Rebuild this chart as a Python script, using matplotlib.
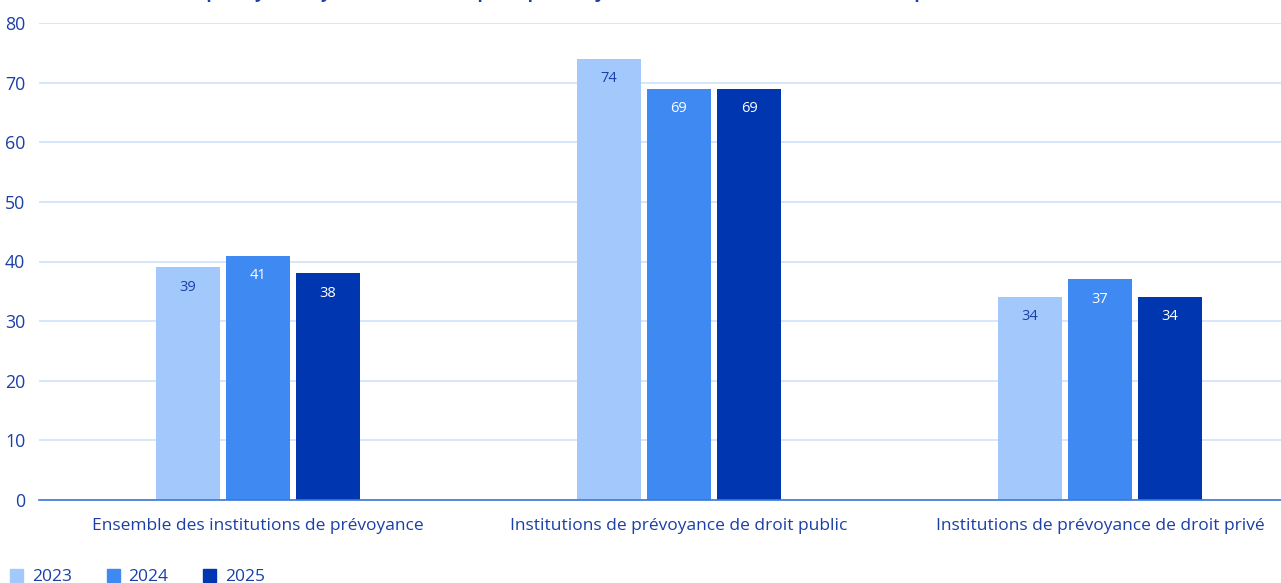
import matplotlib
matplotlib.use("Agg")
import matplotlib.pyplot as plt
import numpy as np

categories = ["Ensemble des institutions de prévoyance",
              "Institutions de prévoyance de droit public",
              "Institutions de prévoyance de droit privé"]
years = ["2023", "2024", "2025"]
values_2023 = [39, 74, 34]
values_2024 = [41, 69, 37]
values_2025 = [38, 69, 34]
yticks = [0, 10, 20, 30, 40, 50, 60, 70, 80]
title = "Part des institutions de prévoyance ayant atteint leurs principaux objectifs en matière de rendement des placements"

colors = ["#a3c9fc", "#3f89f3", "#0037b1"]
label_colors = ["#1a3fa6", "white", "white"]
txt = "#1a3fa6"

plt.rcParams['font.family'] = ['Open Sans', 'DejaVu Sans']

W, H = 1281, 583
fig = plt.figure(figsize=(W / 100, H / 100), dpi=100)
ax = fig.add_axes([39 / W, 1 - 500 / H, (1281 - 39) / W, (500 - 23) / H])

x = np.arange(len(categories))
series = [values_2023, values_2024, values_2025]
bw = 0.152
off = 0.1665
for i, (vals, col, lc, yr) in enumerate(zip(series, colors, label_colors, years)):
    pos = x + (i - 1) * off
    bars = ax.bar(pos, vals, width=bw, color=col, label=yr, zorder=3)
    for b, v in zip(bars, vals):
        ax.text(b.get_x() + b.get_width() / 2, v - 3.3, str(v), ha='center', va='center',
                color=lc, fontsize=10.5, zorder=4)

ax.set_xlim(-0.52, 2.43)
ax.set_ylim(0, 80)
ax.set_yticks(yticks)
ax.set_yticklabels([str(t) for t in yticks])
ax.set_xticks(x)
ax.set_xticklabels(categories)
ax.grid(axis='y', color='#cfe1f8', linewidth=1.2, zorder=0)
for s in ['top', 'right', 'left']:
    ax.spines[s].set_visible(False)
ax.spines['bottom'].set_color('#3a78d6')
ax.spines['bottom'].set_linewidth(1.2)
ax.spines['bottom'].set_zorder(5)
ax.tick_params(axis='both', length=0, colors=txt)
ax.tick_params(axis='x', pad=13, labelsize=12.5)
ax.tick_params(axis='y', pad=10, labelsize=12.8)

fig.text(0.0, 1.0 + 2.0 / H, title, ha='left', va='baseline', color=txt,
         fontsize=12.5, fontweight='bold')

handles = [plt.Rectangle((0, 0), 1, 1, color=c) for c in colors]
fig.legend(handles, years, loc='lower left', bbox_to_anchor=(0.0, -0.022), ncol=3,
           frameon=False, handlelength=0.75, handleheight=0.75, handletextpad=0.5,
           columnspacing=2.0, fontsize=12.5, labelcolor=txt, borderaxespad=0.2)

fig.savefig("out.png", dpi=100)
